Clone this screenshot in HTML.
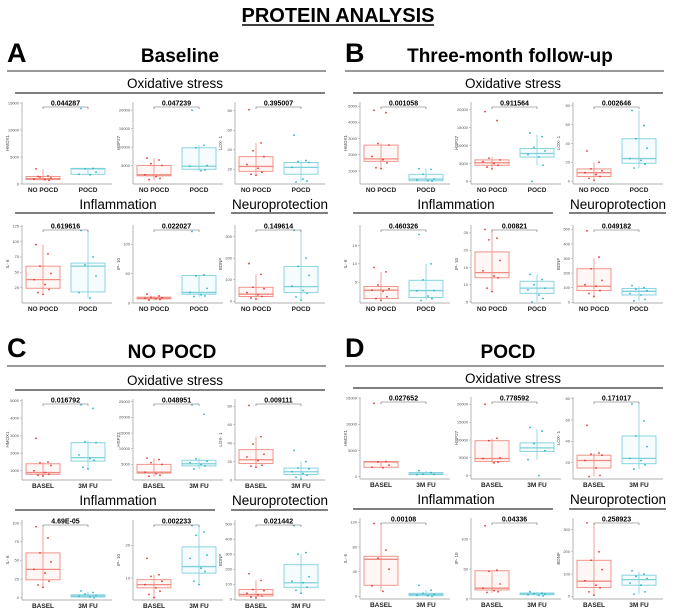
<!DOCTYPE html>
<html><head><meta charset="utf-8">
<style>
html,body{margin:0;padding:0;background:#fff;}
svg{display:block;font-family:"Liberation Sans",sans-serif;}
</style></head>
<body>
<svg id="fig" width="676" height="615" viewBox="0 0 676 615">
<text x="338" y="22" text-anchor="middle" font-size="20" font-weight="bold">PROTEIN ANALYSIS</text>
<line x1="242" y1="25" x2="434" y2="25" stroke="#000" stroke-width="1.5"/>
</svg>
<script>
// ---- data ----
const panelLetters = ["A","B","C","D"];
const panelTitles = ["Baseline","Three-month follow-up","NO POCD","POCD"];
const groupLabels = [["NO POCD","POCD"],["NO POCD","POCD"],["BASEL","3M FU"],["BASEL","3M FU"]];
const markerNames = ["HMOX1","HSP27","LOX- 1","IL- 6","IP- 10","BDNF"];
const pValues = [
 "0.044287","0.047239","0.395007","0.619616","0.022027","0.149614",
 "0.001058","0.911564","0.002646","0.460326","0.00821","0.049182",
 "0.016792","0.048951","0.009111","4.69E-05","0.002233","0.021442",
 "0.027652","0.778592","0.171017","0.00108","0.04336","0.258923"];
const yDomains = [
 [0,15200],[0,22200],[5,89],[0,127],[0,133],[-8,354],
 [200,5260],[-730,22180],[-3,84],[-0.7,20.6],[4.7,27.3],[-5,530],
 [476,5086],[0,25880],[0,88],[-3,104],[3.3,27.7],[-4.5,527],
 [-440,15200],[-930,22050],[4.7,81.5],[-4.3,127],[0,135],[-12,352]];
const yTicks = [
 [0,5000,10000,15000],[5000,10000,15000,20000],[20,40,60,80],[25,50,75,100,125],[0,50,100],[0,100,200,300],
 [1000,2000,3000,4000,5000],[0,5000,10000,15000,20000],[0,20,40,60,80],[5,10,15],[5,10,15,20,25],[0,100,200,300,400,500],
 [1000,2000,3000,4000,5000],[5000,10000,15000,20000,25000],[0,20,40,60,80],[0,25,50,75,100],[10,20],[0,100,200,300,400,500],
 [0,5000,10000,15000],[0,5000,10000,15000,20000],[20,40,60,80],[0,40,80,120],[0,50,100],[0,100,200,300]];
// box stats: [low whisker, q1, median, q3, high whisker]
const boxGroup1 = [
 [600,800,1000,1400,2800],[1000,2200,2500,5000,7000],[14,18,23,33,47],[13,24,38,60,95],[4,7,8,10,12],[10,22,33,65,125],
 [1100,1600,1750,2600,2700],[3500,4500,5200,6000,6800],[1,5,9,13,20],[0,0.5,2.8,3.8,7.8],[8,12,13.5,19.5,26],[30,80,110,230,300],
 [700,800,900,1400,1500],[1000,2200,2500,5000,7000],[14,18,22,33,47],[13,24,38,60,95],[4,7,8,9.5,11],[10,22,33,65,125],
 [1700,1800,2800,2900,2900],[3500,4000,4800,9800,10500],[7,15,22,27,29],[8,18,60,65,118],[10,15,18,47,47],[5,40,68,162,330]];
const boxGroup2 = [
 [1700,1800,2800,2900,2900],[3500,4000,4800,9800,10500],[7,15,22,27,29],[8,18,60,65,118],[10,15,18,47,47],[5,40,68,162,330],
 [350,400,500,800,1150],[4500,6800,7800,9200,13000],[14,19,24,45,75],[0,0.8,2.7,5.5,10],[5,7.5,9,11,13],[10,50,75,95,110],
 [1100,1550,1750,2600,2700],[3500,4500,5200,6300,7000],[1,6,9,13,20],[0,1,2.5,4,8],[8,11.5,13.5,19.5,26],[35,80,110,230,300],
 [350,400,500,800,1150],[4500,6800,7800,9200,13000],[14,19,24,45,75],[0,1,3,5,10],[5,7,9,10,12],[10,50,75,95,110]];
const pointsGroup1 = [
 [2800,1500,1300,1100,900,800,700,1400],[7000,6500,5500,5000,2500,2000,1500,1200],[81,47,39,33,25,21,17,15,14],[95,80,60,48,38,30,22,17,14],[15,12,10,9,8,7,6,5],[175,125,65,58,40,30,22,15,10],
 [4750,4600,2700,2600,1900,1700,1500,1200,1150],[19500,17000,6500,6000,5500,5000,4500,4000,3500],[32,20,13,11,9,7,5,3,1],[9,7.8,4.2,3.2,2.8,2.5,1,0.5,0],[26,23.5,23,17,14,12.5,12,9,8],[490,310,230,150,120,110,80,60,40],
 [2850,1500,1450,1300,1000,900,800,750,700],[7000,6500,5500,5000,2500,2000,1500,1200],[81,47,39,28,25,21,16,15,14],[95,80,60,48,38,33,22,17,14],[16,11,10.5,9,8,7,6,5,4],[170,125,65,58,40,30,22,15,10],
 [14000,2900,2800,2200,1800,1700],[20000,10500,9800,5000,4800,3600,3800],[55,29,28,27,22,15,8,7],[118,75,62,44,17,8],[122,48,46,25,18,14,12,11],[330,200,162,120,70,50,38,20,5]];
const pointsGroup2 = [
 [14000,2900,2800,2200,1800,1700],[20000,10500,9800,5000,4800,3600,3800],[55,29,28,27,22,10,8,7],[118,75,62,44,17,8],[122,48,46,25,18,14,12,11],[330,200,162,120,70,50,38,20,5],
 [1150,1100,800,500,450,400,380],[13500,12500,9500,8500,7500,6800,4500,0],[75,59,45,35,24,22,18,14],[18,10,5.6,2.7,2.6,1.2,0.5,0],[13,11.5,10,9,8.5,7,6,5],[115,100,90,80,60,50,20,10],
 [4750,4550,2650,2600,1900,1700,1600,1200,1100],[24000,21000,6800,6000,5500,5000,4500,3500],[32,20,13,12,9,7,5,3,1],[9,7,5,3,2,1,0],[26,24,23,17,16,13,12,9,8],[490,310,300,150,120,110,80,60,40],
 [1150,800,500,450,400],[13500,12500,9000,7000,4500,0],[75,59,45,35,24,22,18,14],[18,10,5,3,2,1,0],[12,10,9,8,7,6,5],[115,100,90,80,60,50,20,10]];

// ---- layout ----
const NS="http://www.w3.org/2000/svg";
const svg=document.getElementById("fig");
function mk(tag,attrs,parent,text){const e=document.createElementNS(NS,tag);for(const k in attrs)e.setAttribute(k,attrs[k]);if(text!==undefined)e.textContent=text;(parent||svg).appendChild(e);return e;}
const panelX=[0,338,0,338];
const panelLay=[
 {letterY:62,titleY:62,titleLine:71,osY:88,osLine:93,infY:209,infLine:213,r1:[102,184],r2:[225,303]},
 {letterY:62,titleY:62,titleLine:71,osY:88,osLine:93,infY:209,infLine:213,r1:[102,184],r2:[225,303]},
 {letterY:357,titleY:358,titleLine:366,osY:385,osLine:390,infY:505,infLine:510,r1:[399,480],r2:[520,600]},
 {letterY:357,titleY:358,titleLine:366,osY:383,osLine:388,infY:504,infLine:509,r1:[397,479],r2:[518,599]}];
const titleCx=[180,172,172,170];
const axLeft=[22,133,235];
const jit=[-7,5,-3,8,-9,2,6,-5,0,4];
const red="#ef8a80", redPt="#e53935", cyan="#7fd0dc", cyanPt="#26b5c9";

for(let p=0;p<4;p++){
 const x0=panelX[p], L=panelLay[p];
 const g=mk("g",{},svg);
 
 
 let t=mk("text",{x:x0+7,y:L.letterY,"font-size":27,"font-weight":"bold"},g,panelLetters[p]);
 
 
 t=mk("text",{x:x0+titleCx[p],y:L.titleY,"font-size":19,"font-weight":"bold","text-anchor":"middle"},g,panelTitles[p]);
 
 
 mk("line",{x1:x0+7,x2:x0+326,y1:L.titleLine,y2:L.titleLine,stroke:"#333","stroke-width":1},g);
 t=mk("text",{x:x0+175,y:L.osY,"font-size":13.5,"text-anchor":"middle"},g,"Oxidative stress");
 
 
 mk("line",{x1:x0+15,x2:x0+325,y1:L.osLine,y2:L.osLine,stroke:"#333","stroke-width":1.2},g);
 t=mk("text",{x:x0+118,y:L.infY,"font-size":13.5,"text-anchor":"middle"},g,"Inflammation");
 
 
 mk("line",{x1:x0+15,x2:x0+215,y1:L.infLine,y2:L.infLine,stroke:"#333","stroke-width":1.2},g);
 t=mk("text",{x:x0+280,y:L.infY,"font-size":13.5,"text-anchor":"middle"},g,"Neuroprotection");
 
 
 mk("line",{x1:x0+231,x2:x0+328,y1:L.infLine,y2:L.infLine,stroke:"#333","stroke-width":1.2},g);

 for(let k=0;k<6;k++){
  const i=p*6+k;
  const row=k<3?L.r1:L.r2;
  const top=row[0], bot=row[1];
  const ax=x0+axLeft[k%3];
  const dom=yDomains[i];
  const sy=v=>bot-(v-dom[0])/(dom[1]-dom[0])*(bot-top);
  const sg=mk("g",{},g);
  
  
  mk("line",{x1:ax,x2:ax,y1:top,y2:bot,stroke:"#999","stroke-width":0.7},sg);
  mk("line",{x1:ax,x2:ax+90,y1:bot,y2:bot,stroke:"#999","stroke-width":0.7},sg);
  yTicks[i].forEach(v=>{
   const y=sy(v);
   mk("line",{x1:ax-2,x2:ax,y1:y,y2:y,stroke:"#999","stroke-width":0.5},sg);
   const tl=mk("text",{x:ax-3,y:y+1.3,"font-size":4,"text-anchor":"end",fill:"#555"},sg,String(v));
   
   
  });
  const yt=mk("text",{x:0,y:0,"font-size":4.5,"text-anchor":"middle",fill:"#444",transform:`translate(${ax-13},${(top+bot)/2}) rotate(-90)`},sg,markerNames[k]);
  
  
  const cx=[ax+21,ax+66];
  const stats=[boxGroup1[i],boxGroup2[i]], pts=[pointsGroup1[i],pointsGroup2[i]];
  for(let j=0;j<2;j++){
   const s=stats[j], col=j?cyan:red, pc=j?cyanPt:redPt, c=cx[j];
   mk("line",{x1:c,x2:c,y1:sy(s[0]),y2:sy(s[4]),stroke:col,"stroke-width":0.8},sg);
   const b=mk("rect",{x:c-17,y:sy(s[3]),width:34,height:Math.max(1,sy(s[1])-sy(s[3])),fill:col,"fill-opacity":0.07,stroke:col,"stroke-width":0.9},sg);
   
   
   mk("line",{x1:c-17,x2:c+17,y1:sy(s[2]),y2:sy(s[2]),stroke:col,"stroke-width":1.3},sg);
   pts[j].forEach((v,n)=>{
    const d=mk("circle",{cx:c+jit[n%jit.length],cy:sy(v),r:0.9,fill:pc},sg);
    
    
   });
   const xl=mk("text",{x:c,y:bot+8,"font-size":6.5,"font-weight":"bold","text-anchor":"middle",fill:"#222"},sg,groupLabels[p][j]);
   
   
  }
  const by=top+5;
  mk("path",{d:`M${cx[0]},${by+2} V${by} H${cx[1]} V${by+2}`,fill:"none",stroke:"#666","stroke-width":0.6},sg);
  const pv=mk("text",{x:(cx[0]+cx[1])/2,y:by-1.3,"font-size":7,"font-weight":"bold","text-anchor":"middle"},sg,pValues[i]);
  
  
 }
}
</script>
</body></html>
